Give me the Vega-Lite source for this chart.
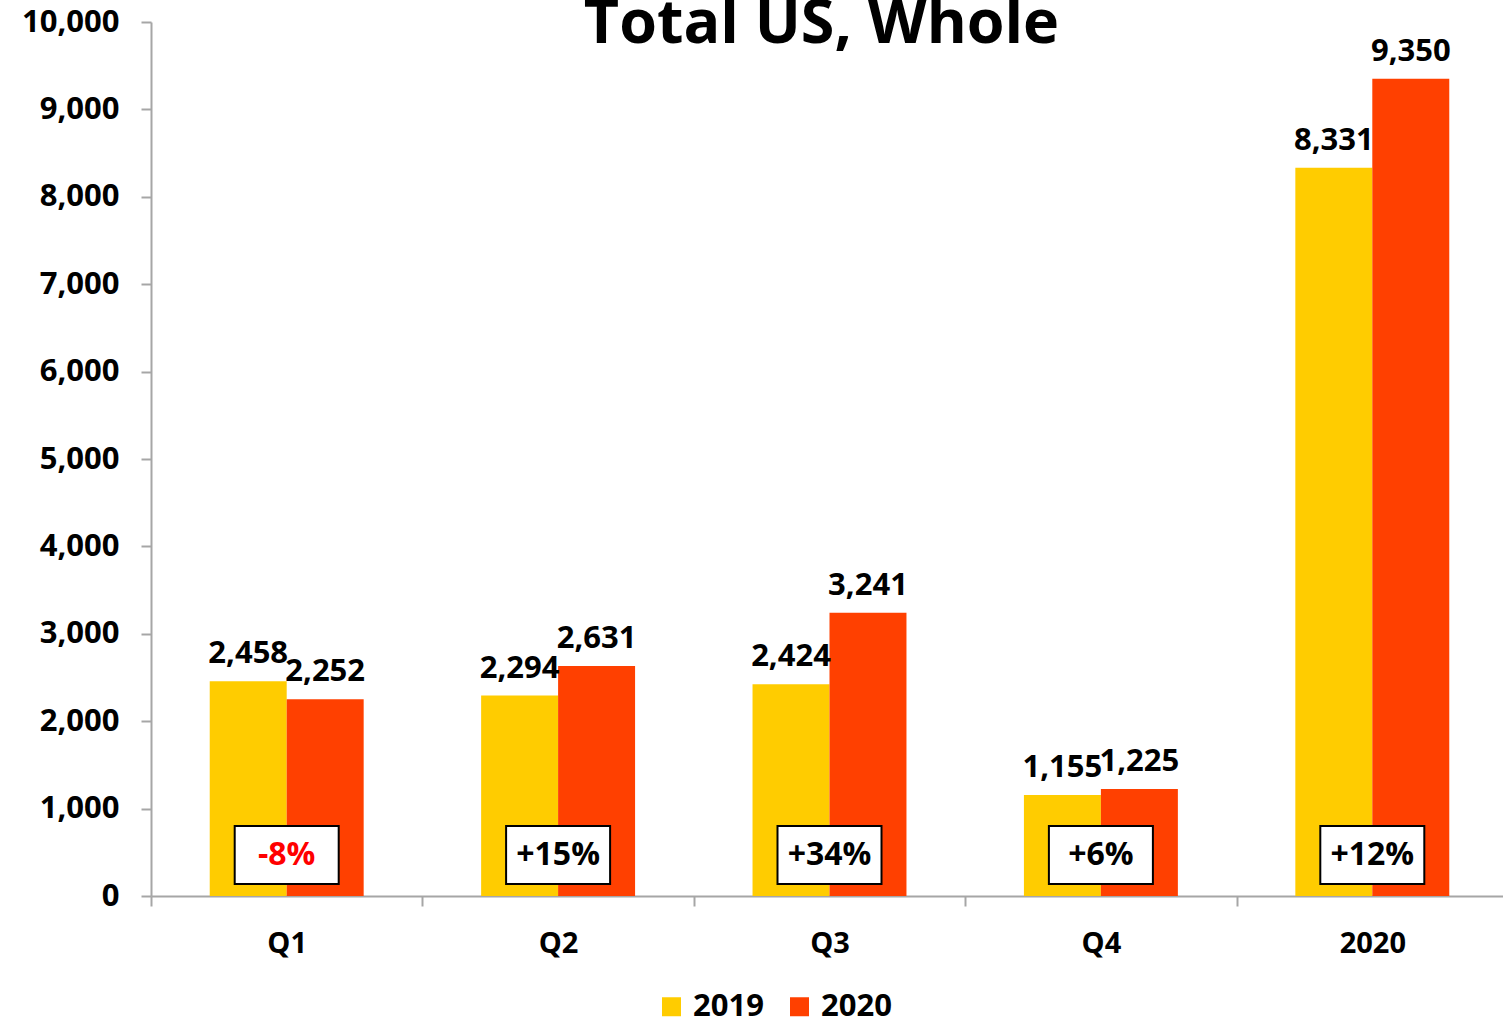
{
  "$schema": "https://vega.github.io/schema/vega-lite/v6.json",
  "width": 1357,
  "height": 874,
  "autosize": "none",
  "padding": {"left": 151, "top": 22, "right": 0, "bottom": 126},
  "background": "white",
  "title": {
    "text": "Total US, Whole",
    "font": "Open Sans",
    "fontSize": 61,
    "fontWeight": "bold",
    "color": "black",
    "anchor": "middle",
    "frame": "group",
    "baseline": "alphabetic",
    "offset": -35,
    "dy": 63,
    "dx": -8
  },
  "config": {
    "view": {"stroke": null},
    "font": "Open Sans",
    "axisX": {
      "title": null,
      "labelAngle": 0,
      "labelFont": "Open Sans",
      "labelFontSize": 29,
      "labelFontWeight": "bold",
      "labelColor": "black",
      "labelPadding": 23,
      "tickBand": "extent",
      "tickSize": 10,
      "tickWidth": 2,
      "tickColor": "#A6A6A6",
      "domainColor": "#A6A6A6",
      "domainWidth": 2
    },
    "axisY": {
      "title": null,
      "grid": false,
      "format": ",d",
      "labelFont": "Open Sans",
      "labelFontSize": 31,
      "labelFontWeight": "bold",
      "labelColor": "black",
      "labelPadding": 22,
      "tickSize": 10,
      "tickWidth": 2,
      "tickColor": "#A6A6A6",
      "domainColor": "#A6A6A6",
      "domainWidth": 2
    }
  },
  "data": {
    "values": [
      {"period": "Q1", "year": "2019", "value": 2458},
      {"period": "Q1", "year": "2020", "value": 2252},
      {"period": "Q2", "year": "2019", "value": 2294},
      {"period": "Q2", "year": "2020", "value": 2631},
      {"period": "Q3", "year": "2019", "value": 2424},
      {"period": "Q3", "year": "2020", "value": 3241},
      {"period": "Q4", "year": "2019", "value": 1155},
      {"period": "Q4", "year": "2020", "value": 1225},
      {"period": "2020", "year": "2019", "value": 8331},
      {"period": "2020", "year": "2020", "value": 9350}
    ]
  },
  "layer": [
    {
      "mark": {"type": "bar"},
      "encoding": {
        "x": {
          "field": "period",
          "type": "nominal",
          "scale": {"domain": ["Q1", "Q2", "Q3", "Q4", "2020"], "paddingInner": 0, "paddingOuter": 0},
          "axis": {"title": null}
        },
        "xOffset": {
          "field": "year",
          "type": "nominal",
          "scale": {"domain": ["2019", "2020"], "paddingInner": 0, "paddingOuter": 0.763}
        },
        "y": {
          "field": "value",
          "type": "quantitative",
          "scale": {"domain": [0, 10000], "nice": false},
          "axis": {"title": null, "format": ",d", "values": [0, 1000, 2000, 3000, 4000, 5000, 6000, 7000, 8000, 9000, 10000]}
        },
        "color": {
          "field": "year",
          "type": "nominal",
          "scale": {"domain": ["2019", "2020"], "range": ["#FFCC00", "#FF4000"]},
          "legend": {
            "title": null,
            "orient": "none",
            "direction": "horizontal",
            "legendX": 505,
            "legendY": 969,
            "symbolType": "square",
            "symbolSize": 361,
            "symbolStrokeWidth": 0,
            "labelFont": "Open Sans",
            "labelFontSize": 31,
            "labelFontWeight": "bold",
            "labelColor": "black",
            "labelOffset": 6,
            "columnPadding": 20
          }
        }
      }
    },
    {
      "mark": {"type": "text", "font": "Open Sans", "fontSize": 31, "fontWeight": "bold", "color": "black", "baseline": "alphabetic", "dy": -18},
      "encoding": {
        "x": {"field": "period", "type": "nominal", "axis": {"title": null}},
        "xOffset": {"field": "year", "type": "nominal"},
        "y": {"field": "value", "type": "quantitative", "axis": {"title": null, "format": ",d", "values": [0, 1000, 2000, 3000, 4000, 5000, 6000, 7000, 8000, 9000, 10000]}},
        "text": {"field": "value", "type": "quantitative", "format": ","}
      }
    },
    {
      "data": {
        "values": [
          {"period": "Q1", "change": "-8%"},
          {"period": "Q2", "change": "+15%"},
          {"period": "Q3", "change": "+34%"},
          {"period": "Q4", "change": "+6%"},
          {"period": "2020", "change": "+12%"}
        ]
      },
      "layer": [
        {
          "mark": {"type": "bar", "width": 104, "fill": "white", "stroke": "black", "strokeWidth": 2},
          "encoding": {
            "x": {"field": "period", "type": "nominal", "axis": {"title": null}},
            "y": {"datum": 801, "type": "quantitative", "axis": {"title": null, "format": ",d", "values": [0, 1000, 2000, 3000, 4000, 5000, 6000, 7000, 8000, 9000, 10000]}},
            "y2": {"datum": 137}
          }
        },
        {
          "mark": {"type": "text", "font": "Open Sans", "fontSize": 32, "fontWeight": "bold", "baseline": "middle"},
          "encoding": {
            "x": {"field": "period", "type": "nominal", "axis": {"title": null}},
            "y": {"datum": 470, "type": "quantitative", "axis": {"title": null, "format": ",d", "values": [0, 1000, 2000, 3000, 4000, 5000, 6000, 7000, 8000, 9000, 10000]}},
            "text": {"field": "change"},
            "color": {"condition": {"test": "indexof(datum.change, '-') == 0", "value": "#FF0000"}, "value": "black"}
          }
        }
      ]
    }
  ]
}
